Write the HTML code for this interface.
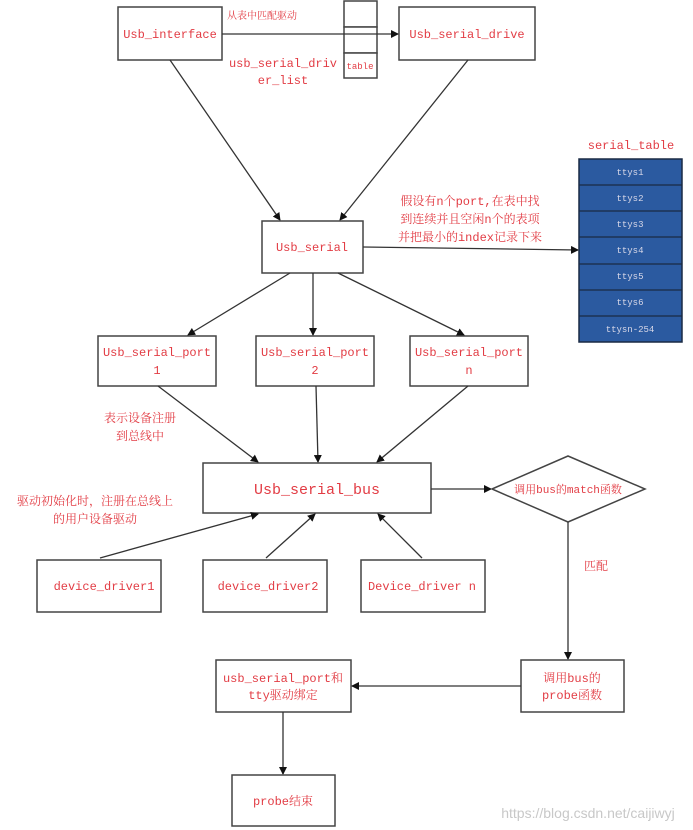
<!DOCTYPE html>
<html><head><meta charset="utf-8"><style>
body{margin:0;background:#fff;}
svg{display:block;}
.t{font-family:"Liberation Mono","Noto Serif CJK SC",monospace;fill:#e23c44;font-size:12px;text-anchor:middle;}
.b{fill:#fff;stroke:#444;stroke-width:1.5;}
.l{stroke:#333;stroke-width:1.3;fill:none;marker-end:url(#a);}
.w{font-family:"Liberation Mono","Noto Serif CJK SC",monospace;fill:#d8d8e8;font-size:9px;text-anchor:middle;}
</style></head><body>
<svg width="693" height="830" viewBox="0 0 693 830" xmlns="http://www.w3.org/2000/svg">
<defs><marker id="a" markerWidth="8" markerHeight="8" refX="7" refY="4" orient="auto" markerUnits="userSpaceOnUse"><path d="M0,0 L8,4 L0,8 z" fill="#111"/></marker></defs>
<!-- top -->
<rect class="b" x="118" y="7" width="104" height="53"/>
<text class="t" x="170" y="38">Usb_interface</text>
<rect class="b" x="344" y="1" width="33" height="26"/>
<rect class="b" x="344" y="27" width="33" height="26"/>
<rect class="b" x="344" y="53" width="33" height="25"/>
<text class="t" x="360" y="69" style="font-size:9px">table</text>
<rect class="b" x="399" y="7" width="136" height="53"/>
<text class="t" x="467" y="38">Usb_serial_drive</text>
<line class="l" x1="222" y1="34" x2="398" y2="34"/>
<text class="t" x="262" y="19" style="font-size:10px">从表中匹配驱动</text>
<text class="t" x="283" y="67">usb_serial_driv</text>
<text class="t" x="283" y="84">er_list</text>
<line class="l" x1="170" y1="60" x2="280" y2="220"/>
<line class="l" x1="468" y1="60" x2="340" y2="220"/>
<!-- usb_serial -->
<rect class="b" x="262" y="221" width="101" height="52"/>
<text class="t" x="312" y="251">Usb_serial</text>
<line class="l" x1="363" y1="247" x2="578" y2="250"/>
<text class="t" x="470" y="205">假设有n个port,在表中找</text>
<text class="t" x="470" y="223">到连续并且空闲n个的表项</text>
<text class="t" x="470" y="241">并把最小的index记录下来</text>
<text class="t" x="631" y="149">serial_table</text>
<g>
<rect x="579" y="159" width="103" height="183" fill="#2b5aa0" stroke="#1a2a44" stroke-width="1.5"/>
<g stroke="#1a2a44" stroke-width="1.3">
<line x1="579" y1="185" x2="682" y2="185"/><line x1="579" y1="211" x2="682" y2="211"/>
<line x1="579" y1="237" x2="682" y2="237"/><line x1="579" y1="264" x2="682" y2="264"/>
<line x1="579" y1="290" x2="682" y2="290"/><line x1="579" y1="316" x2="682" y2="316"/>
</g>
<g class="w"><text x="630" y="175">ttys1</text><text x="630" y="201">ttys2</text><text x="630" y="227">ttys3</text><text x="630" y="253">ttys4</text><text x="630" y="279">ttys5</text><text x="630" y="305">ttys6</text><text x="630" y="332">ttysn-254</text></g>
</g>
<line class="l" x1="290" y1="273" x2="188" y2="335"/>
<line class="l" x1="313" y1="273" x2="313" y2="335"/>
<line class="l" x1="338" y1="273" x2="464" y2="335"/>
<!-- ports -->
<rect class="b" x="98" y="336" width="118" height="50"/>
<text class="t" x="157" y="356">Usb_serial_port</text><text class="t" x="157" y="374">1</text>
<rect class="b" x="256" y="336" width="118" height="50"/>
<text class="t" x="315" y="356">Usb_serial_port</text><text class="t" x="315" y="374">2</text>
<rect class="b" x="410" y="336" width="118" height="50"/>
<text class="t" x="469" y="356">Usb_serial_port</text><text class="t" x="469" y="374">n</text>
<text class="t" x="140" y="422">表示设备注册</text>
<text class="t" x="140" y="440">到总线中</text>
<line class="l" x1="158" y1="386" x2="258" y2="462"/>
<line class="l" x1="316" y1="386" x2="318" y2="462"/>
<line class="l" x1="468" y1="386" x2="377" y2="462"/>
<!-- bus -->
<rect class="b" x="203" y="463" width="228" height="50"/>
<text class="t" x="317" y="494" style="font-size:15px">Usb_serial_bus</text>
<text class="t" x="95" y="505">驱动初始化时，注册在总线上</text>
<text class="t" x="95" y="523">的用户设备驱动</text>
<line class="l" x1="431" y1="489" x2="491" y2="489"/>
<polygon points="492,489 568,456 645,489 568,522" fill="#fff" stroke="#444" stroke-width="1.5"/>
<text class="t" x="568" y="493" style="font-size:11px">调用bus的match函数</text>
<line class="l" x1="100" y1="558" x2="258" y2="514"/>
<line class="l" x1="266" y1="558" x2="315" y2="514"/>
<line class="l" x1="422" y1="558" x2="378" y2="514"/>
<rect class="b" x="37" y="560" width="124" height="52"/>
<text class="t" x="104" y="590">device_driver1</text>
<rect class="b" x="203" y="560" width="124" height="52"/>
<text class="t" x="268" y="590">device_driver2</text>
<rect class="b" x="361" y="560" width="124" height="52"/>
<text class="t" x="422" y="590">Device_driver n</text>
<text class="t" x="596" y="570">匹配</text>
<line class="l" x1="568" y1="522" x2="568" y2="659"/>
<!-- bottom -->
<rect class="b" x="521" y="660" width="103" height="52"/>
<text class="t" x="572" y="682">调用bus的</text><text class="t" x="572" y="699">probe函数</text>
<rect class="b" x="216" y="660" width="135" height="52"/>
<text class="t" x="283" y="682">usb_serial_port和</text><text class="t" x="283" y="699">tty驱动绑定</text>
<line class="l" x1="521" y1="686" x2="352" y2="686"/>
<line class="l" x1="283" y1="712" x2="283" y2="774"/>
<rect class="b" x="232" y="775" width="103" height="51"/>
<text class="t" x="283" y="805">probe结束</text>
<text x="588" y="818" font-family="Liberation Sans,sans-serif" font-size="14" fill="#c8c8c8" text-anchor="middle">https://blog.csdn.net/caijiwyj</text>
</svg>
</body></html>
